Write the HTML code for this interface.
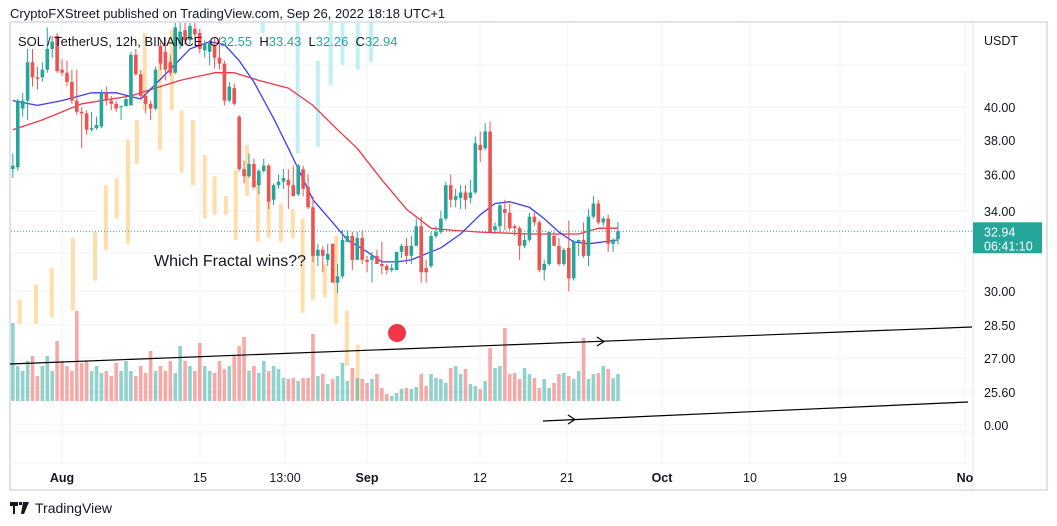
<!DOCTYPE html>
<html><head><meta charset="utf-8">
<style>
html,body{margin:0;padding:0;background:#fff;}
body{width:1057px;height:526px;overflow:hidden;position:relative;font-family:"Liberation Sans",sans-serif;}
#hdr{position:absolute;left:10px;top:6px;font-size:13px;color:#131722;}
#foot{position:absolute;left:10px;top:500px;font-size:14px;color:#131722;display:flex;align-items:center;gap:5px;}
svg{position:absolute;left:0;top:0;}
</style></head>
<body>
<div id="hdr">CryptoFXStreet published on TradingView.com, Sep 26, 2022 18:18 UTC+1</div>
<div id="foot"><svg width="20" height="12" style="position:static"><path d="M0 0h8v4H5v8H3V4H0z M9 0h3v3H9z M13 0h6l-5 12h-3z" fill="#131722"/></svg><span>TradingView</span></div>
<svg id="chart" width="1057" height="526"></svg>
<script>
// ---- data ----
const candleOpen=[36.3,36.4,39.9,40.4,42.9,41.9,41.9,42.4,43.8,44.7,42.4,42.2,41.6,40.4,39.7,39.6,38.6,38.7,38.8,40.9,40.4,40.2,40.0,40.05,40.1,43.4,42.1,40.7,40.2,39.9,44.0,43.6,42.9,42.2,44.1,45.1,44.4,45.2,44.9,43.7,43.6,44.0,43.2,42.8,40.4,41.2,39.4,36.3,35.9,36.6,35.4,36.2,36.5,34.6,35.4,35.6,35.7,35.4,34.9,36.3,35.3,34.2,31.7,32.0,31.5,32.3,30.4,30.7,32.4,32.7,31.5,32.6,31.5,31.5,31.7,31.3,31.2,31.0,31.0,31.9,32.2,31.7,32.2,33.2,31.1,31.2,32.7,32.9,33.6,35.4,34.6,34.7,35.0,34.7,35.0,37.7,37.5,38.5,33.0,33.2,34.1,33.9,33.2,33.1,32.2,32.5,33.7,33.4,31.0,31.3,32.7,32.2,31.3,32.1,30.6,32.4,32.5,31.7,33.7,34.4,33.4,33.6,32.3,32.55];
const candleHigh=[37.2,40.5,40.9,43.8,43.8,42.6,42.9,45.3,44.7,44.9,43.1,43.0,42.4,42.4,40.0,39.8,39.7,39.4,41.1,41.3,40.7,40.4,40.1,40.6,43.6,43.8,42.4,40.9,40.4,42.6,44.3,44.6,43.4,45.7,45.9,46.3,46.4,45.9,45.2,44.4,44.4,44.6,44.6,43.0,41.6,41.5,39.5,36.8,37.2,36.9,36.3,36.9,36.6,35.5,36.0,36.3,36.3,36.5,36.6,36.5,36.0,34.8,32.3,32.2,32.3,32.3,31.3,33.0,33.0,32.9,32.9,33.0,31.7,31.9,32.0,32.4,31.3,31.3,31.9,32.3,32.6,32.7,33.6,33.7,31.5,32.9,33.2,34.0,35.6,36.0,35.2,35.4,35.4,35.7,38.2,38.5,39.0,39.1,33.4,34.5,34.6,34.4,33.3,33.2,32.8,33.9,33.9,33.5,31.5,32.9,32.9,32.6,32.1,33.5,32.5,32.5,33.4,34.1,34.8,34.6,33.7,33.8,32.6,33.43];
const candleLow=[35.8,36.2,39.4,39.2,41.3,41.1,41.6,42.2,43.2,42.2,42.0,41.3,40.2,39.5,37.5,38.3,38.5,38.6,38.7,40.1,39.8,39.7,39.2,40.05,40.1,42.0,40.5,39.6,39.2,39.8,42.4,41.7,42.0,42.1,43.8,44.1,44.1,44.4,43.5,43.2,42.7,42.5,42.4,40.1,40.3,40.1,36.2,35.5,35.8,35.2,34.9,36.1,34.1,34.3,35.2,35.2,34.1,34.8,34.8,34.8,34.1,31.4,31.2,30.9,31.2,30.4,29.9,30.6,32.4,31.0,31.5,31.3,30.9,30.4,31.3,30.8,30.8,30.9,31.0,31.6,31.3,31.3,32.2,30.4,30.4,31.1,32.6,32.8,33.5,34.2,34.2,34.1,34.1,34.4,34.9,36.7,37.4,32.9,32.8,32.9,33.0,33.0,32.7,31.5,32.1,32.4,33.2,30.9,30.5,31.2,32.2,31.2,31.2,30.0,30.5,31.7,31.6,31.2,33.6,33.3,33.2,31.9,31.9,32.26];
const candleClose=[36.5,40.4,40.4,42.9,41.9,41.8,42.4,43.8,44.3,42.3,42.2,41.6,40.4,39.7,39.6,38.6,38.7,38.9,40.9,40.4,40.2,39.9,40.05,40.5,43.4,42.1,40.7,40.2,39.9,42.4,42.8,42.4,42.2,45.3,45.0,44.4,45.4,44.8,43.8,44.2,44.2,43.2,42.8,40.4,41.3,40.2,36.3,35.9,36.6,35.3,36.2,36.5,34.5,35.4,35.6,35.8,35.4,34.8,36.5,35.2,34.2,31.7,32.0,31.7,31.8,30.4,30.7,32.5,32.7,31.5,32.6,31.5,31.4,31.7,31.3,31.2,31.0,31.1,31.9,32.2,31.7,32.2,33.2,30.9,30.9,32.7,32.9,33.6,35.4,34.6,34.8,35.0,34.6,35.0,37.8,37.4,38.5,32.9,33.2,34.3,33.9,33.1,33.1,32.2,32.5,33.7,33.4,31.0,31.3,32.9,32.2,31.3,32.0,30.6,32.4,32.5,31.7,33.7,34.4,33.4,33.6,32.3,32.5,32.94];
const volumes=[78,35,30,40,45,25,35,45,30,60,40,35,30,90,38,40,30,35,28,30,25,38,30,40,30,25,35,28,50,30,35,30,40,28,55,40,35,30,58,35,30,28,40,32,35,45,55,64,30,35,28,40,30,35,32,23,22,23,20,23,23,67,25,27,17,22,25,38,20,33,23,22,18,22,27,13,7,5,8,12,13,12,14,27,15,27,23,22,18,33,35,27,32,17,15,12,20,53,33,35,73,27,28,22,33,27,23,13,22,13,18,27,28,25,22,30,63,22,27,28,35,32,23,27,20];
const maFastIdx=[0,5,10,16,21,26,31,36,40,43,46,49,53,56,61,65,68,72,75,78,81,84,87,91,95,98,101,105,108,111,114,117,120,123];
const maFastVal=[40.4,40.1,40.4,40.9,40.9,40.5,42.1,43.8,44.3,44.1,43.0,41.6,39.3,37.5,34.6,33.4,32.5,31.9,31.4,31.4,31.5,31.8,32.1,32.8,33.8,34.4,34.5,34.2,33.6,32.9,32.4,32.3,32.4,32.5];
const maSlowIdx=[0,6,14,24,34,41,45,50,56,61,66,70,75,80,85,89,95,105,115,119,123];
const maSlowVal=[38.6,39.2,40.2,40.7,41.7,42.2,42.2,41.7,41.2,40.1,38.6,37.5,35.7,34.1,33.1,33.0,32.9,32.8,32.8,33.1,33.1];
const ghostIdx=[1.4,4.7,7.9,12.2,16.7,18.9,21.1,23.4,25.2,26.8,29.9,32.3,34.3,36.6,39,41,43.3,45.3,47.6,49.8,52,54.5,56.9,58.9,61,63.4,65.7,67.9,70.1];
const ghostHigh=[29.6,30.3,31.1,32.6,32.9,35.4,35.8,38.0,39.2,44.9,42.8,45.1,39.8,39.2,37.1,35.9,34.8,36.25,37.7,35.7,34.6,34.4,34.1,33.6,32.4,31.3,32.7,29.1,27.6];
const ghostLow=[28.5,28.5,28.8,29.1,30.5,32.0,33.6,32.3,36.6,39.8,37.4,39.8,36.1,35.4,33.6,33.8,33.8,32.5,34.8,32.4,32.6,32.4,32.6,29.0,29.6,29.7,28.5,26.7,25.3];
const cyanIdx=[50.8,57.9,62,64.6,67,70.1,72.8];
const cyanHigh=[46,46,43.0,46,46,46,46];
const cyanLow=[44.9,37.2,37.6,41.4,42.7,42.4,42.9];
const priceTicks=["40.00","38.00","36.00","34.00","30.00"];
const priceTickVals=[40,38,36,34,30];
const extraTicks=["28.50","27.00","25.60","0.00"];
const timeLabels=["Aug","15","13:00","Sep","12","21","Oct","10","19","No"];
const timeBold=[true,false,false,true,false,false,true,false,false,true];
const lastPrice=32.94;
// ---- scales ----
const N=candleClose.length;
const yOf=p=>107-640*Math.log(p/40);
const xOf=i=>618-(N-1-i)*4.92;
const volBase=401, volK=1.0;
const svg=document.getElementById('chart');
const NS='http://www.w3.org/2000/svg';
function mk(tag,attrs,parent){const e=document.createElementNS(NS,tag);for(const k in attrs)e.setAttribute(k,attrs[k]);(parent||svg).appendChild(e);return e;}
// clip
const defs=mk('defs',{});const cp=mk('clipPath',{id:'pane'},defs);mk('rect',{x:11,y:23,width:962,height:440},cp);
// frame
const frame=mk('rect',{x:10,y:22,width:1037,height:468,fill:'none',stroke:'#e0e3eb','stroke-width':2});

const sep=mk('line',{x1:973,y1:22,x2:973,y2:490,stroke:'#e0e3eb'});

const tsep=mk('line',{x1:10,y1:463,x2:973,y2:463,stroke:'#f0f3fa'});

// grid
const grid=mk('g',{stroke:'#f0f3fa','stroke-width':1});

const gridY=[65,107,140,174,211,253,291,325,358,392,425,432];
gridY.forEach(y=>mk('line',{x1:11,y1:y,x2:973,y2:y},grid));
const timeX=[62,200,285,367,480,567,662,750,840,965];
timeX.forEach(x=>mk('line',{x1:x,y1:23,x2:x,y2:463},grid));
const pane=mk('g',{'clip-path':'url(#pane)'});
// ghost bars
const ghost=mk('g',{});
ghostIdx.forEach((gi,k)=>{const r=mk('rect',{x:xOf(gi)-2,y:yOf(ghostHigh[k]),width:4,height:yOf(ghostLow[k])-yOf(ghostHigh[k]),fill:'#ffcc80','fill-opacity':0.65},ghost);pane.appendChild(ghost);
});
cyanIdx.forEach((gi,k)=>{const r=mk('rect',{x:xOf(gi)-2,y:yOf(cyanHigh[k]),width:4,height:yOf(cyanLow[k])-yOf(cyanHigh[k]),fill:'#b2ebf2','fill-opacity':0.8},ghost);
});
pane.appendChild(ghost);
// volume
const vol=mk('g',{},pane);
volumes.forEach((v,i)=>{if(i>=N)return;const up=candleClose[i]>=candleOpen[i];
const r=mk('rect',{x:xOf(i)-1.8,y:volBase-v*volK,width:3.6,height:v*volK,fill:up?'#26a69a':'#ef5350','fill-opacity':0.5},vol);
});
// moving averages
function line(idx,val,color,name){const d=idx.map((ii,k)=>(k?'L':'M')+xOf(ii).toFixed(1)+' '+yOf(val[k]).toFixed(1)).join(' ');
const p=mk('path',{d:d,fill:'none',stroke:color,'stroke-width':1.3,'stroke-linejoin':'round'},pane);
}
line(maSlowIdx,maSlowVal,'#f23645','slow-moving-average');
line(maFastIdx,maFastVal,'#3d3df5','fast-moving-average');
// candles
const cg=mk('g',{},pane);
for(let i=0;i<N;i++){const up=candleClose[i]>=candleOpen[i];const col=up?'#26a69a':'#ef5350';const x=xOf(i);
const g=mk('g',{},cg);


mk('line',{x1:x,y1:yOf(candleHigh[i]),x2:x,y2:yOf(candleLow[i]),stroke:col,'stroke-width':1},g);
const t=yOf(Math.max(candleOpen[i],candleClose[i])),b=yOf(Math.min(candleOpen[i],candleClose[i]));
mk('rect',{x:x-1.8,y:t,width:3.6,height:Math.max(1,b-t),fill:col},g);}
// last price line
const lp=mk('line',{x1:11,y1:yOf(lastPrice),x2:973,y2:yOf(lastPrice),stroke:'#26a69a','stroke-dasharray':'1 2'});

// trend lines
const tl1=mk('line',{x1:10,y1:364,x2:972,y2:327,stroke:'#000','stroke-width':1.2});

const a1=mk('path',{d:'M597 337 L604 341.5 L597 346',fill:'none',stroke:'#000','stroke-width':1.2});

const tl2=mk('line',{x1:543,y1:421,x2:968,y2:402,stroke:'#000','stroke-width':1.2});

const a2=mk('path',{d:'M568 415 L575 419.5 L568 424',fill:'none',stroke:'#000','stroke-width':1.2});

const dot=mk('circle',{cx:397,cy:333,r:9,fill:'#f23645'});

const note=mk('text',{x:154,y:266,'font-size':16,fill:'#131722','font-family':'Liberation Sans, sans-serif'});
note.textContent='Which Fractal wins??';

// legend
const lg=mk('text',{x:18,y:46,'font-size':13,fill:'#131722','font-family':'Liberation Sans, sans-serif'});

const parts=[['SOL / TetherUS, 12h, BINANCE  O','#131722'],['32.55','#26a69a'],['  H','#131722'],['33.43','#26a69a'],['  L','#131722'],['32.26','#26a69a'],['  C','#131722'],['32.94','#26a69a']];
parts.forEach(p=>{const s=mk('tspan',{fill:p[1]},lg);s.setAttribute('xml:space','preserve');s.textContent=p[0];});
lg.setAttribute('style','white-space:pre');
// price axis
const ax=mk('g',{'font-size':12.5,fill:'#131722','font-family':'Liberation Sans, sans-serif'});

const u=mk('text',{x:984,y:45},ax);u.textContent='USDT';
priceTicks.forEach((t,k)=>{const e=mk('text',{x:984,y:yOf(priceTickVals[k])+5},ax);e.textContent=t;
});
const extraY=[325,358,392,425];
extraTicks.forEach((t,k)=>{const e=mk('text',{x:984,y:extraY[k]+5},ax);e.textContent=t;
});
const box=mk('rect',{x:973,y:yOf(lastPrice)-9,width:69,height:31,fill:'#26a69a'});

const b1=mk('text',{x:984,y:yOf(lastPrice)+5,'font-size':12.5,fill:'#fff'});b1.textContent='32.94';
const b2=mk('text',{x:984,y:yOf(lastPrice)+19,'font-size':12.5,fill:'#fff'});b2.textContent='06:41:10';
// time axis
const ta=mk('g',{'font-size':12.5,fill:'#131722','font-family':'Liberation Sans, sans-serif','text-anchor':'middle'});

timeLabels.forEach((t,k)=>{const e=mk('text',{x:timeX[k],y:482,'font-weight':timeBold[k]?'bold':'normal'},ta);e.textContent=t;
});
</script>
</body></html>
